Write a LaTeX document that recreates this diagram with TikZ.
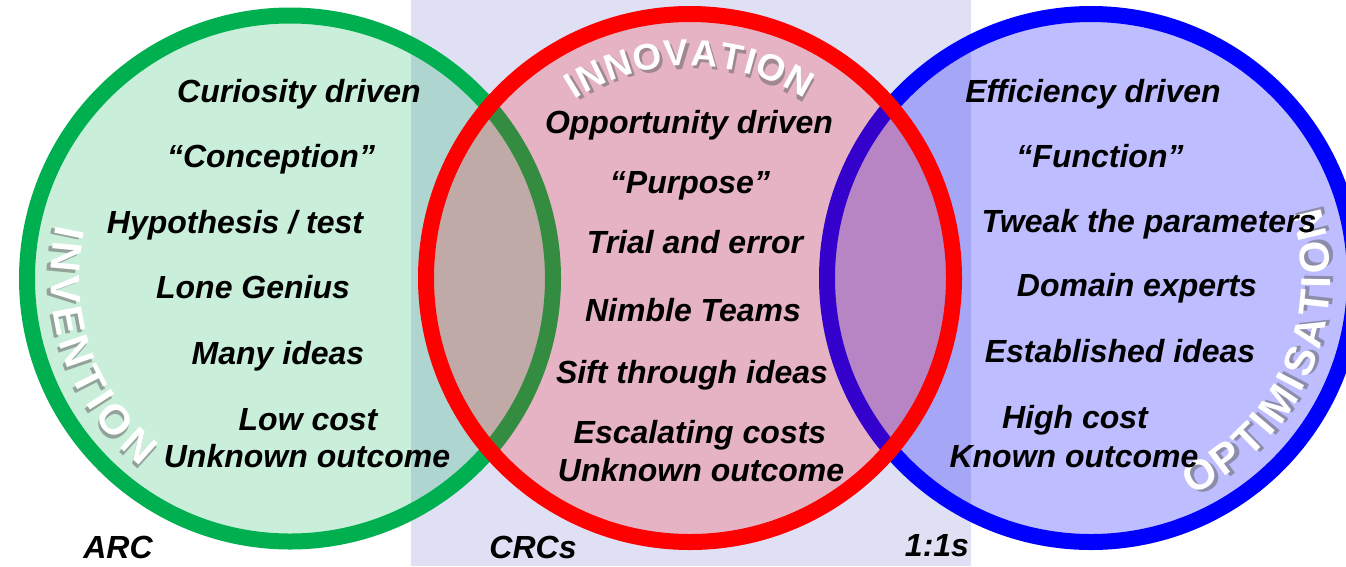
\documentclass[tikz,border=0pt]{standalone}
\usepackage{fontspec}
\setmainfont{Liberation Sans}

\definecolor{lavender}{HTML}{DFE0F4}
\definecolor{ringgreen}{HTML}{00B050}
\definecolor{ringred}{HTML}{FF0000}
\definecolor{ringblue}{HTML}{0000FF}

\begin{document}
\begin{tikzpicture}[x=1pt,y=1pt,font=\fontsize{32}{38}\selectfont\bfseries\itshape]
      \tikzstyle{ring}=[line width=16pt]
      \tikzstyle{item}=[anchor=base,inner sep=0pt]
      \tikzstyle{cap letter}=[inner sep=0pt,text=white,font=\fontsize{42}{46}\selectfont\bfseries\upshape]
      \tikzstyle{top letter}=[cap letter,font=\fontsize{37}{40}\selectfont\bfseries\upshape]
      \tikzstyle{shade}=[text=black!60,opacity=0.55,xshift=2.5pt,yshift=-3.5pt]

      \clip (0,0) rectangle (1346,-566);
      \fill[lavender] (411,0) rectangle (971,-566);

      \coordinate (inv) at (290,-278.5);
      \coordinate (inn) at (690,-278);
      \coordinate (opt) at (1091,-278);

      % the three sets, red one on top
      \fill[ringgreen,opacity=0.21] (inv) circle (264pt);
      \draw[ring,ringgreen] (inv) circle (263pt);
      \fill[ringblue,opacity=0.26] (opt) circle (264pt);
      \draw[ring,ringblue] (opt) circle (264pt);
      \fill[ringred,opacity=0.2] (inn) circle (264pt);
      \draw[ring,ringred] (inn) circle (264pt);

      % curved titles, one letter at a time
      \foreach \ch/\a [count=\i] in {I/168.3,N/174.6,V/182.8,E/190.7,N/198.9,T/206.9,I/212.6,O/219.1,N/227.9}
          \path (inv) ++(\a:225pt)
              node[cap letter,rotate=\a+90,shade] (invsh\i) {\ch}
              node[cap letter,rotate=\a+90] (invl\i) {\ch};
      \foreach \ch/\a [count=\i] in {I/121.6,N/116.2,N/108.7,O/101.0,V/93.5,A/86.3,T/79.3,I/74.4,O/68.8,N/61.0}
          \path (inn) ++(\a:225pt)
              node[top letter,rotate=\a-90,shade] (innsh\i) {\ch}
              node[top letter,rotate=\a-90] (innl\i) {\ch};
      \foreach \ch/\a [count=\i] in {O/-61.1,P/-53.0,T/-45.7,I/-40.3,M/-33.9,I/-27.4,S/-21.8,A/-13.9,T/-6.3,I/-1.0,O/5.2,N/13.6}
          \path (opt) ++(\a:225pt)
              node[cap letter,rotate=\a+90,shade] (optsh\i) {\ch}
              node[cap letter,rotate=\a+90] (optl\i) {\ch};

      % invention
      \node[item] (curiosity) at (299,-102) {Curiosity driven};
      \node[item] (conception) at (271,-167) {“Conception”};
      \node[item] (hypothesis) at (235,-233) {Hypothesis / test};
      \node[item] (genius) at (253,-298) {Lone Genius};
      \node[item] (manyideas) at (278,-364) {Many ideas};
      \node[item] (lowcost) at (308,-430) {Low cost};
      \node[item] (unknownA) at (307,-467) {Unknown outcome};
      \node[item] (arc) at (118,-558) {ARC};

      % innovation
      \node[item] (opportunity) at (689,-133) {Opportunity driven};
      \node[item] (purpose) at (690,-193) {“Purpose”};
      \node[item] (trial) at (695,-253) {Trial and error};
      \node[item] (nimble) at (693,-321) {Nimble Teams};
      \node[item] (sift) at (692,-383) {Sift through ideas};
      \node[item] (escalating) at (700,-443) {Escalating costs};
      \node[item] (unknownB) at (701,-481) {Unknown outcome};
      \node[item] (crcs) at (533,-558) {CRCs};

      % optimisation
      \node[item] (efficiency) at (1093,-102) {Efficiency driven};
      \node[item] (function) at (1100,-167) {“Function”};
      \node[item] (tweak) at (1149,-232) {Tweak the parameters};
      \node[item] (domain) at (1137,-296) {Domain experts};
      \node[item] (established) at (1120,-362) {Established ideas};
      \node[item] (highcost) at (1075,-428) {High cost};
      \node[item] (known) at (1074,-467) {Known outcome};
      \node[item] (ones) at (937,-556) {1:1s};
\end{tikzpicture}
\end{document}
